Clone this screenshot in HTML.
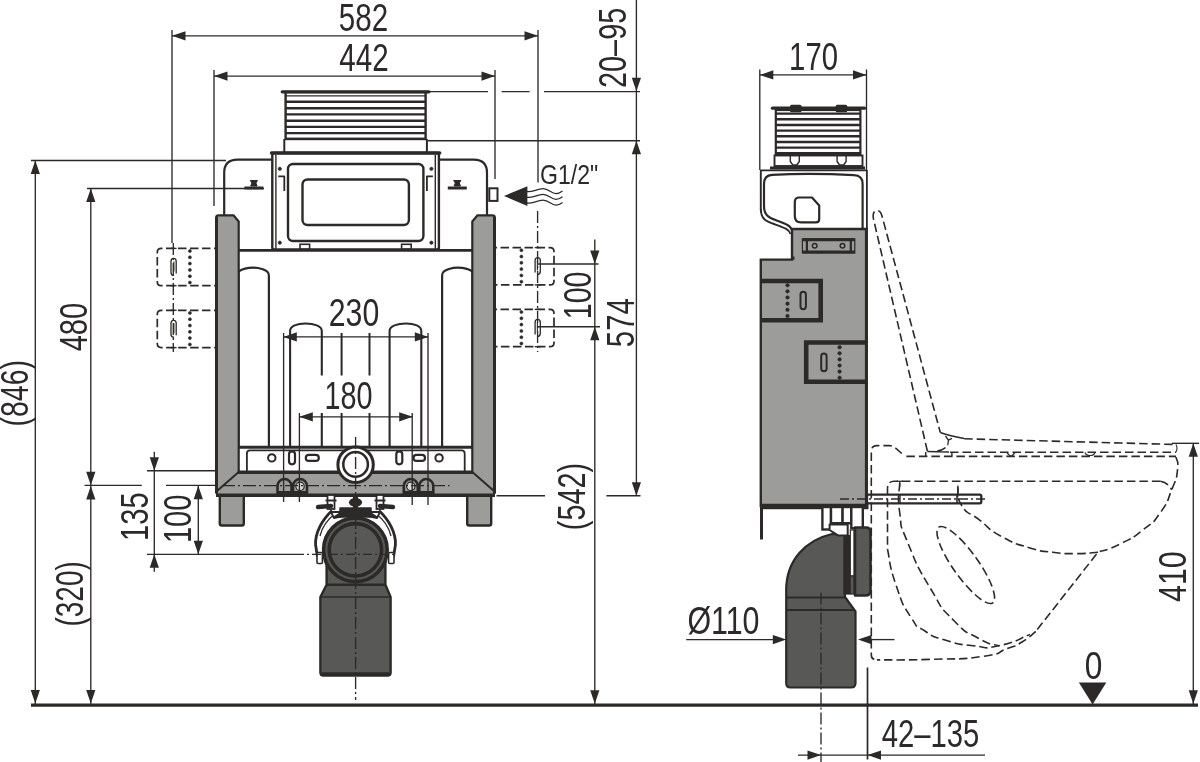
<!DOCTYPE html>
<html><head><meta charset="utf-8"><title>Dimensions</title>
<style>html,body{margin:0;padding:0;background:#fff}svg{display:block;will-change:transform}text{font-family:"Liberation Sans",sans-serif}</style>
</head><body>
<svg width="1200" height="762" viewBox="0 0 1200 762">
<rect width="1200" height="762" fill="#fff"/>
<line x1="31" y1="705.2" x2="1198" y2="705.2" stroke="#2b2a29" stroke-width="3.2" stroke-linecap="butt"/>
<rect x="285.6" y="92" width="140" height="47" rx="0" fill="#fff" stroke="#2b2a29" stroke-width="2.4"/>
<line x1="282.2" y1="91.8" x2="429" y2="91.8" stroke="#2b2a29" stroke-width="3.2" stroke-linecap="round"/>
<line x1="285" y1="95.8" x2="426" y2="95.8" stroke="#2b2a29" stroke-width="1.2" stroke-linecap="butt"/>
<line x1="285" y1="101.7" x2="426" y2="101.7" stroke="#2b2a29" stroke-width="2.4" stroke-linecap="butt"/>
<line x1="285" y1="108.2" x2="426" y2="108.2" stroke="#2b2a29" stroke-width="2.4" stroke-linecap="butt"/>
<line x1="285" y1="114.4" x2="426" y2="114.4" stroke="#2b2a29" stroke-width="2.4" stroke-linecap="butt"/>
<line x1="285" y1="120.7" x2="426" y2="120.7" stroke="#2b2a29" stroke-width="2.4" stroke-linecap="butt"/>
<line x1="285" y1="126.9" x2="426" y2="126.9" stroke="#2b2a29" stroke-width="2.4" stroke-linecap="butt"/>
<line x1="285" y1="133.1" x2="426" y2="133.1" stroke="#2b2a29" stroke-width="2.4" stroke-linecap="butt"/>
<line x1="285" y1="138.9" x2="426" y2="138.9" stroke="#2b2a29" stroke-width="2.4" stroke-linecap="butt"/>
<path d="M284.3,139 V152 M426.9,139 V152" fill="none" stroke="#2b2a29" stroke-width="2" stroke-linejoin="round" stroke-linecap="butt"/>
<path d="M224.2,216 V172.9 Q224.2,159.6 237.5,159.6 H272 M439,159.6 H473.7 Q487,159.6 487,172.9 V215" fill="none" stroke="#2b2a29" stroke-width="2.2" stroke-linejoin="round" stroke-linecap="butt"/>
<line x1="238" y1="250.4" x2="473" y2="250.4" stroke="#2b2a29" stroke-width="2.8" stroke-linecap="butt"/>
<line x1="244.4" y1="188" x2="263.4" y2="188" stroke="#2b2a29" stroke-width="3" stroke-linecap="butt"/>
<path d="M250.3,180.5 h7.2 l-1.6,2.5 l1.2,3 h-6.4 l1.2,-3 z" fill="#2b2a29" stroke="#2b2a29" stroke-width="1" stroke-linejoin="round" stroke-linecap="butt"/>
<line x1="447.8" y1="188" x2="466.8" y2="188" stroke="#2b2a29" stroke-width="3" stroke-linecap="butt"/>
<path d="M453.7,180.5 h7.2 l-1.6,2.5 l1.2,3 h-6.4 l1.2,-3 z" fill="#2b2a29" stroke="#2b2a29" stroke-width="1" stroke-linejoin="round" stroke-linecap="butt"/>
<path d="M238.5,447 V271.5 C243,268.6 248,267.7 253,267.7 C259,267.7 266,269.5 268,272.5 Q268.9,273.8 268.9,276.5 V447" fill="none" stroke="#2b2a29" stroke-width="2.2" stroke-linejoin="round" stroke-linecap="butt"/>
<path d="M472.5,447 V271.5 C468,268.6 463,267.7 458,267.7 C452,267.7 445,269.5 443,272.5 Q442.1,273.8 442.1,276.5 V447" fill="none" stroke="#2b2a29" stroke-width="2.2" stroke-linejoin="round" stroke-linecap="butt"/>
<path d="M290.1,447 V331 C290.1,326 297,323.5 305.5,323.5 C314,323.5 321.8,326 321.8,331 V447" fill="none" stroke="#2b2a29" stroke-width="2.1" stroke-linejoin="round" stroke-linecap="butt"/>
<path d="M421.3,447 V331 C421.3,326 414.4,323.5 405.9,323.5 C397.4,323.5 389.6,326 389.6,331 V447" fill="none" stroke="#2b2a29" stroke-width="2.1" stroke-linejoin="round" stroke-linecap="butt"/>
<line x1="341.6" y1="333" x2="341.6" y2="447" stroke="#2b2a29" stroke-width="2" stroke-linecap="butt"/>
<line x1="369.5" y1="333" x2="369.5" y2="447" stroke="#2b2a29" stroke-width="2" stroke-linecap="butt"/>
<rect x="272.3" y="153" width="166.6" height="96.5" rx="2" fill="#fff" stroke="#2b2a29" stroke-width="2.4"/>
<line x1="271.5" y1="153" x2="439.7" y2="153" stroke="#2b2a29" stroke-width="3.4" stroke-linecap="round"/>
<line x1="275.9" y1="155" x2="275.9" y2="249" stroke="#2b2a29" stroke-width="1.4" stroke-linecap="butt"/>
<line x1="435.3" y1="155" x2="435.3" y2="249" stroke="#2b2a29" stroke-width="1.4" stroke-linecap="butt"/>
<rect x="288" y="164" width="135.4" height="77" rx="5" fill="none" stroke="#2b2a29" stroke-width="2.4"/>
<rect x="302.5" y="179.5" width="106.4" height="45.5" rx="5" fill="none" stroke="#2b2a29" stroke-width="2.4"/>
<circle cx="279.8" cy="168.8" r="1.6" fill="#2b2a29" stroke="#2b2a29" stroke-width="0.8"/>
<circle cx="279.8" cy="242.7" r="1.6" fill="#2b2a29" stroke="#2b2a29" stroke-width="0.8"/>
<circle cx="431.4" cy="168.8" r="1.6" fill="#2b2a29" stroke="#2b2a29" stroke-width="0.8"/>
<circle cx="431.4" cy="242.7" r="1.6" fill="#2b2a29" stroke="#2b2a29" stroke-width="0.8"/>
<path d="M278.3,176.3 H284.3 V191" fill="none" stroke="#2b2a29" stroke-width="1.8" stroke-linejoin="round" stroke-linecap="butt"/>
<path d="M432.9,176.3 H426.9 V191" fill="none" stroke="#2b2a29" stroke-width="1.8" stroke-linejoin="round" stroke-linecap="butt"/>
<rect x="300" y="244.3" width="9.6" height="5" rx="0" fill="none" stroke="#2b2a29" stroke-width="1.6"/>
<rect x="401.6" y="244.3" width="9.6" height="5" rx="0" fill="none" stroke="#2b2a29" stroke-width="1.6"/>
<line x1="239" y1="447.3" x2="472.5" y2="447.3" stroke="#2b2a29" stroke-width="3" stroke-linecap="butt"/>
<path d="M246.9,472 V453.5 Q246.9,450.3 250,450.3 H461.5 Q464.7,450.3 464.7,453.5 V472" fill="none" stroke="#2b2a29" stroke-width="1.8" stroke-linejoin="round" stroke-linecap="butt"/>
<circle cx="271.8" cy="457.9" r="3.7" fill="none" stroke="#2b2a29" stroke-width="2"/>
<circle cx="439.1" cy="457.9" r="3.7" fill="none" stroke="#2b2a29" stroke-width="2"/>
<rect x="289" y="451.3" width="6" height="13" rx="3" fill="none" stroke="#2b2a29" stroke-width="2.2"/>
<rect x="396.3" y="451.3" width="6" height="13" rx="3" fill="none" stroke="#2b2a29" stroke-width="2.2"/>
<rect x="305.8" y="454.9" width="13" height="6" rx="3" fill="none" stroke="#2b2a29" stroke-width="2.2"/>
<rect x="413.5" y="454.9" width="11.5" height="6" rx="3" fill="none" stroke="#2b2a29" stroke-width="2.2"/>
<path d="M216.2,493 V217.5 Q216.2,215.3 218.7,215.3 H233.5 L238.7,221.5 V472 H240 V494 Z" fill="#9c9c9b" stroke="#2b2a29" stroke-width="2.2" stroke-linejoin="round" stroke-linecap="butt"/>
<path d="M494.8,493 V217.5 Q494.8,215.3 492.3,215.3 H477.5 L472.3,221.5 V472 H471 V494 Z" fill="#9c9c9b" stroke="#2b2a29" stroke-width="2.2" stroke-linejoin="round" stroke-linecap="butt"/>
<line x1="216.5" y1="217" x2="216.5" y2="493" stroke="#2b2a29" stroke-width="3" stroke-linecap="butt"/>
<line x1="494.5" y1="217" x2="494.5" y2="493" stroke="#2b2a29" stroke-width="3" stroke-linecap="butt"/>
<rect x="219.8" y="494" width="24" height="31.5" rx="2" fill="#9c9c9b" stroke="#2b2a29" stroke-width="2.4"/>
<rect x="467.2" y="494" width="24" height="31.5" rx="2" fill="#9c9c9b" stroke="#2b2a29" stroke-width="2.4"/>
<path d="M238.7,472 H472.3 L494,491 V495.5 H217 V491 Z" fill="#9c9c9b" stroke="#2b2a29" stroke-width="2" stroke-linejoin="round" stroke-linecap="butt"/>
<path d="M277.5,495 V486 A7,7 0 0 1 291.5,486 V495 Z" fill="#9c9c9b" stroke="#2b2a29" stroke-width="2.6" stroke-linejoin="round" stroke-linecap="butt"/>
<rect x="277.5" y="491" width="14" height="4" rx="0" fill="#2b2a29" stroke="none" stroke-width="0"/>
<path d="M293,495 V486 A7,7 0 0 1 307,486 V495 Z" fill="#9c9c9b" stroke="#2b2a29" stroke-width="2.6" stroke-linejoin="round" stroke-linecap="butt"/>
<rect x="293" y="491" width="14" height="4" rx="0" fill="#2b2a29" stroke="none" stroke-width="0"/>
<circle cx="300" cy="486.3" r="4.2" fill="#d8d8d8" stroke="#2b2a29" stroke-width="1.2"/>
<path d="M419.3,495 V486 A7,7 0 0 1 433.3,486 V495 Z" fill="#9c9c9b" stroke="#2b2a29" stroke-width="2.6" stroke-linejoin="round" stroke-linecap="butt"/>
<rect x="419.3" y="491" width="14" height="4" rx="0" fill="#2b2a29" stroke="none" stroke-width="0"/>
<path d="M403.8,495 V486 A7,7 0 0 1 417.8,486 V495 Z" fill="#9c9c9b" stroke="#2b2a29" stroke-width="2.6" stroke-linejoin="round" stroke-linecap="butt"/>
<rect x="403.8" y="491" width="14" height="4" rx="0" fill="#2b2a29" stroke="none" stroke-width="0"/>
<circle cx="410.8" cy="486.3" r="4.2" fill="#d8d8d8" stroke="#2b2a29" stroke-width="1.2"/>
<line x1="238" y1="472.2" x2="473" y2="472.2" stroke="#2b2a29" stroke-width="3.4" stroke-linecap="butt"/>
<line x1="216" y1="495.3" x2="495" y2="495.3" stroke="#2b2a29" stroke-width="3.4" stroke-linecap="butt"/>
<line x1="222" y1="485.6" x2="449.5" y2="485.6" stroke="#2b2a29" stroke-width="1.3" stroke-dasharray="13 3 2 3" stroke-linecap="butt"/>
<circle cx="355.6" cy="464.7" r="17.7" fill="#fff" stroke="#2b2a29" stroke-width="3"/>
<circle cx="355.6" cy="464.4" r="12.3" fill="#fff" stroke="#2b2a29" stroke-width="2.5"/>
<path d="M320.4,672.5 V597 L326.6,584.8 V560 H385.4 V584.8 L390.6,597 V672.5 Q390.6,675.5 387.6,675.5 H323.4 Q320.4,675.5 320.4,672.5 Z" fill="#585857" stroke="#2b2a29" stroke-width="2.4" stroke-linejoin="round" stroke-linecap="butt"/>
<line x1="322" y1="674" x2="389" y2="674" stroke="#2b2a29" stroke-width="3.6" stroke-linecap="butt"/>
<line x1="326.6" y1="584.8" x2="385.4" y2="584.8" stroke="#2b2a29" stroke-width="2.6" stroke-linecap="butt"/>
<line x1="320.5" y1="597" x2="390.5" y2="597" stroke="#2b2a29" stroke-width="1.6" stroke-linecap="butt"/>
<path d="M332.0,510.5 C322.0,520 314.8,533 315.6,545 L317.5,557" fill="none" stroke="#2b2a29" stroke-width="2.8" stroke-linejoin="round" stroke-linecap="butt"/>
<path d="M336.0,513 C328.0,519 322.0,527 320.0,536" fill="none" stroke="#2b2a29" stroke-width="1.3" stroke-linejoin="round" stroke-linecap="butt"/>
<rect x="317.0" y="552.5" width="5.4" height="11" rx="1" fill="#fff" stroke="#2b2a29" stroke-width="1.6"/>
<rect x="327.5" y="495" width="7" height="14" rx="0" fill="#fff" stroke="#2b2a29" stroke-width="1.8"/>
<line x1="318.0" y1="507" x2="331.0" y2="506" stroke="#2b2a29" stroke-width="4.4" stroke-linecap="round"/>
<line x1="325.5" y1="500.5" x2="336.5" y2="500.5" stroke="#2b2a29" stroke-width="2" stroke-linecap="butt"/>
<path d="M340.0,512 L331.0,512 L334.0,518 L343.0,516 Z" fill="#fff" stroke="#2b2a29" stroke-width="1.8" stroke-linejoin="round" stroke-linecap="butt"/>
<path d="M379.0,510.5 C389.0,520 396.2,533 395.4,545 L393.5,557" fill="none" stroke="#2b2a29" stroke-width="2.8" stroke-linejoin="round" stroke-linecap="butt"/>
<path d="M375.0,513 C383.0,519 389.0,527 391.0,536" fill="none" stroke="#2b2a29" stroke-width="1.3" stroke-linejoin="round" stroke-linecap="butt"/>
<rect x="388.6" y="552.5" width="5.4" height="11" rx="1" fill="#fff" stroke="#2b2a29" stroke-width="1.6"/>
<rect x="376.5" y="495" width="7" height="14" rx="0" fill="#fff" stroke="#2b2a29" stroke-width="1.8"/>
<line x1="393.0" y1="507" x2="380.0" y2="506" stroke="#2b2a29" stroke-width="4.4" stroke-linecap="round"/>
<line x1="385.5" y1="500.5" x2="374.5" y2="500.5" stroke="#2b2a29" stroke-width="2" stroke-linecap="butt"/>
<path d="M371.0,512 L380.0,512 L377.0,518 L368.0,516 Z" fill="#fff" stroke="#2b2a29" stroke-width="1.8" stroke-linejoin="round" stroke-linecap="butt"/>
<path d="M340,508 H371 V513 L377,517 H334 L340,513 Z" fill="#2b2a29" stroke="#2b2a29" stroke-width="1.5" stroke-linejoin="round" stroke-linecap="butt"/>
<ellipse cx="355.5" cy="502.3" rx="6.6" ry="4.4" fill="#2b2a29"/>
<line x1="355.5" y1="495" x2="355.5" y2="509" stroke="#2b2a29" stroke-width="5" stroke-linecap="butt"/>
<circle cx="355.4" cy="549.8" r="31.8" fill="#585857" stroke="#2b2a29" stroke-width="3.6"/>
<circle cx="355.4" cy="549.8" r="26.2" fill="none" stroke="#2b2a29" stroke-width="3.6"/>
<line x1="172" y1="35.8" x2="538" y2="35.8" stroke="#2b2a29" stroke-width="1.35" stroke-linecap="butt"/>
<polygon points="172.0,35.8 185.5,31.2 185.5,40.4" fill="#2b2a29"/>
<polygon points="538.0,35.8 524.5,31.2 524.5,40.4" fill="#2b2a29"/>
<line x1="172" y1="30" x2="172" y2="243" stroke="#2b2a29" stroke-width="1.35" stroke-linecap="butt"/>
<line x1="173.3" y1="243" x2="173.3" y2="352" stroke="#2b2a29" stroke-width="1.35" stroke-dasharray="12 3 2 3" stroke-linecap="butt"/>
<line x1="538" y1="30" x2="538" y2="182.5" stroke="#2b2a29" stroke-width="1.35" stroke-linecap="butt"/>
<line x1="537.6" y1="211" x2="537.6" y2="352" stroke="#2b2a29" stroke-width="1.35" stroke-dasharray="12 3 2 3" stroke-linecap="butt"/>
<text transform="translate(338.82,31.0) scale(0.7790,1)" font-size="38" fill="#2b2a29">582</text>
<line x1="214" y1="76.1" x2="495" y2="76.1" stroke="#2b2a29" stroke-width="1.35" stroke-linecap="butt"/>
<polygon points="214.0,76.1 227.5,71.5 227.5,80.7" fill="#2b2a29"/>
<polygon points="495.0,76.1 481.5,71.5 481.5,80.7" fill="#2b2a29"/>
<line x1="214" y1="70" x2="214" y2="206" stroke="#2b2a29" stroke-width="1.35" stroke-linecap="butt"/>
<line x1="495" y1="70" x2="495" y2="179" stroke="#2b2a29" stroke-width="1.35" stroke-linecap="butt"/>
<text transform="translate(339.33,71.3) scale(0.7787,1)" font-size="38" fill="#2b2a29">442</text>
<line x1="428" y1="91.6" x2="640" y2="91.6" stroke="#2b2a29" stroke-width="1.35" stroke-dasharray="60 13.6 28 14.4 200" stroke-linecap="butt"/>
<line x1="428" y1="140.7" x2="640" y2="140.7" stroke="#2b2a29" stroke-width="1.35" stroke-linecap="butt"/>
<line x1="636.4" y1="0" x2="636.4" y2="495.5" stroke="#2b2a29" stroke-width="1.35" stroke-linecap="butt"/>
<polygon points="636.4,91.3 631.8,77.8 641.0,77.8" fill="#2b2a29"/>
<polygon points="636.4,140.8 631.8,154.3 641.0,154.3" fill="#2b2a29"/>
<polygon points="636.4,495.7 631.8,482.2 641.0,482.2" fill="#2b2a29"/>
<text transform="translate(626,88.04) rotate(-90) scale(0.7601,1)" font-size="38" fill="#2b2a29">20–95</text>
<text transform="translate(634.4,347.17) rotate(-90) scale(0.7714,1)" font-size="38" fill="#2b2a29">574</text>
<line x1="31" y1="160.5" x2="226" y2="160.5" stroke="#2b2a29" stroke-width="1.35" stroke-linecap="butt"/>
<line x1="35.3" y1="161" x2="35.3" y2="704" stroke="#2b2a29" stroke-width="1.35" stroke-linecap="butt"/>
<polygon points="35.3,160.5 30.7,174.0 39.9,174.0" fill="#2b2a29"/>
<polygon points="35.3,703.5 30.7,690.0 39.9,690.0" fill="#2b2a29"/>
<text transform="translate(27.9,426.48) rotate(-90) scale(0.7502,1)" font-size="38" fill="#2b2a29">(846)</text>
<line x1="87" y1="188.5" x2="264" y2="188.5" stroke="#2b2a29" stroke-width="1.35" stroke-linecap="butt"/>
<line x1="90.8" y1="189" x2="90.8" y2="704" stroke="#2b2a29" stroke-width="1.35" stroke-linecap="butt"/>
<polygon points="90.8,188.5 86.2,202.0 95.4,202.0" fill="#2b2a29"/>
<polygon points="90.8,485.2 86.2,471.7 95.4,471.7" fill="#2b2a29"/>
<polygon points="90.8,486.0 86.2,499.5 95.4,499.5" fill="#2b2a29"/>
<polygon points="90.8,703.5 86.2,690.0 95.4,690.0" fill="#2b2a29"/>
<line x1="84.5" y1="485.4" x2="141.8" y2="485.4" stroke="#2b2a29" stroke-width="1.35" stroke-linecap="butt"/>
<line x1="166" y1="485.4" x2="217" y2="485.4" stroke="#2b2a29" stroke-width="1.35" stroke-linecap="butt"/>
<text transform="translate(86.8,351.36) rotate(-90) scale(0.7678,1)" font-size="38" fill="#2b2a29">480</text>
<text transform="translate(83.0,626.55) rotate(-90) scale(0.7371,1)" font-size="38" fill="#2b2a29">(320)</text>
<line x1="154.3" y1="451.7" x2="154.3" y2="571.7" stroke="#2b2a29" stroke-width="1.35" stroke-linecap="butt"/>
<polygon points="154.3,470.7 149.7,457.2 158.9,457.2" fill="#2b2a29"/>
<polygon points="154.3,554.3 149.7,567.8 158.9,567.8" fill="#2b2a29"/>
<line x1="147" y1="470.7" x2="218" y2="470.7" stroke="#2b2a29" stroke-width="1.35" stroke-linecap="butt"/>
<line x1="147" y1="554.3" x2="295" y2="554.3" stroke="#2b2a29" stroke-width="1.35" stroke-linecap="butt"/>
<line x1="295" y1="554.3" x2="397" y2="554.3" stroke="#2b2a29" stroke-width="1.35" stroke-dasharray="9 3 2 3" stroke-linecap="butt"/>
<text transform="translate(147.5,540.98) rotate(-90) scale(0.7662,1)" font-size="38" fill="#2b2a29">135</text>
<line x1="198.3" y1="486" x2="198.3" y2="554" stroke="#2b2a29" stroke-width="1.35" stroke-linecap="butt"/>
<polygon points="198.3,485.7 193.7,499.2 202.9,499.2" fill="#2b2a29"/>
<polygon points="198.3,554.3 193.7,540.8 202.9,540.8" fill="#2b2a29"/>
<text transform="translate(191.1,543.08) rotate(-90) scale(0.7649,1)" font-size="38" fill="#2b2a29">100</text>
<rect x="323" y="295.5" width="58.8" height="36.8" rx="0" fill="#fff" stroke="none" stroke-width="0"/>
<rect x="319.5" y="375.5" width="61.5" height="37.5" rx="0" fill="#fff" stroke="none" stroke-width="0"/>
<line x1="283.3" y1="336.9" x2="428.3" y2="336.9" stroke="#2b2a29" stroke-width="1.35" stroke-linecap="butt"/>
<polygon points="283.3,336.9 296.8,332.3 296.8,341.5" fill="#2b2a29"/>
<polygon points="428.3,336.9 414.8,332.3 414.8,341.5" fill="#2b2a29"/>
<line x1="299.3" y1="416.8" x2="412.7" y2="416.8" stroke="#2b2a29" stroke-width="1.35" stroke-linecap="butt"/>
<polygon points="299.3,416.8 312.8,412.2 312.8,421.4" fill="#2b2a29"/>
<polygon points="412.7,416.8 399.2,412.2 399.2,421.4" fill="#2b2a29"/>
<line x1="283.6" y1="333" x2="283.6" y2="502" stroke="#2b2a29" stroke-width="1.35" stroke-linecap="butt"/>
<line x1="428" y1="333" x2="428" y2="505" stroke="#2b2a29" stroke-width="1.35" stroke-linecap="butt"/>
<line x1="299.4" y1="413" x2="299.4" y2="502" stroke="#2b2a29" stroke-width="1.35" stroke-linecap="butt"/>
<line x1="412.2" y1="413" x2="412.2" y2="505" stroke="#2b2a29" stroke-width="1.35" stroke-linecap="butt"/>
<text transform="translate(328.79,326.0) scale(0.7961,1)" font-size="38" fill="#2b2a29">230</text>
<text transform="translate(324.44,408.8) scale(0.7565,1)" font-size="38" fill="#2b2a29">180</text>
<line x1="355.6" y1="437" x2="355.6" y2="700" stroke="#2b2a29" stroke-width="1.35" stroke-dasharray="12 3 2 3" stroke-linecap="butt"/>
<path d="M215.5,248.4 H161.3 Q157.3,248.4 157.3,252.4 V281.7 Q157.3,285.7 161.3,285.7 H215.5" fill="none" stroke="#2b2a29" stroke-width="1.7" stroke-dasharray="8.5 3.5" stroke-dashoffset="7" stroke-linejoin="round" stroke-linecap="butt"/>
<circle cx="189.9" cy="251.0" r="1.5" fill="#2b2a29" stroke="#2b2a29" stroke-width="0.6"/>
<circle cx="189.9" cy="257.3" r="1.5" fill="#2b2a29" stroke="#2b2a29" stroke-width="0.6"/>
<circle cx="189.9" cy="263.6" r="1.5" fill="#2b2a29" stroke="#2b2a29" stroke-width="0.6"/>
<circle cx="189.9" cy="269.9" r="1.5" fill="#2b2a29" stroke="#2b2a29" stroke-width="0.6"/>
<circle cx="189.9" cy="276.2" r="1.5" fill="#2b2a29" stroke="#2b2a29" stroke-width="0.6"/>
<circle cx="189.9" cy="282.5" r="1.5" fill="#2b2a29" stroke="#2b2a29" stroke-width="0.6"/>
<path d="M176.20000000000002,273.4 V261.4 Q176.20000000000002,258.4 173.60000000000002,258.4 Q171.00000000000003,258.4 171.00000000000003,261.4 V272.4 Q171.00000000000003,275.4 174.10000000000002,275.4" fill="none" stroke="#2b2a29" stroke-width="1.3" stroke-linejoin="round" stroke-linecap="butt"/>
<line x1="173.90000000000003" y1="261.4" x2="173.90000000000003" y2="271.4" stroke="#2b2a29" stroke-width="1.1" stroke-linecap="butt"/>
<line x1="170.60000000000002" y1="248.4" x2="176.60000000000002" y2="248.4" stroke="#2b2a29" stroke-width="1.3" stroke-linecap="butt"/>
<line x1="170.60000000000002" y1="285.7" x2="176.60000000000002" y2="285.7" stroke="#2b2a29" stroke-width="1.3" stroke-linecap="butt"/>
<path d="M215.5,310.3 H161.3 Q157.3,310.3 157.3,314.3 V343.6 Q157.3,347.6 161.3,347.6 H215.5" fill="none" stroke="#2b2a29" stroke-width="1.7" stroke-dasharray="8.5 3.5" stroke-dashoffset="7" stroke-linejoin="round" stroke-linecap="butt"/>
<circle cx="189.9" cy="312.90000000000003" r="1.5" fill="#2b2a29" stroke="#2b2a29" stroke-width="0.6"/>
<circle cx="189.9" cy="319.20000000000005" r="1.5" fill="#2b2a29" stroke="#2b2a29" stroke-width="0.6"/>
<circle cx="189.9" cy="325.50000000000006" r="1.5" fill="#2b2a29" stroke="#2b2a29" stroke-width="0.6"/>
<circle cx="189.9" cy="331.8" r="1.5" fill="#2b2a29" stroke="#2b2a29" stroke-width="0.6"/>
<circle cx="189.9" cy="338.1" r="1.5" fill="#2b2a29" stroke="#2b2a29" stroke-width="0.6"/>
<circle cx="189.9" cy="344.40000000000003" r="1.5" fill="#2b2a29" stroke="#2b2a29" stroke-width="0.6"/>
<path d="M176.20000000000002,335.3 V323.3 Q176.20000000000002,320.3 173.60000000000002,320.3 Q171.00000000000003,320.3 171.00000000000003,323.3 V334.3 Q171.00000000000003,337.3 174.10000000000002,337.3" fill="none" stroke="#2b2a29" stroke-width="1.3" stroke-linejoin="round" stroke-linecap="butt"/>
<line x1="173.90000000000003" y1="323.3" x2="173.90000000000003" y2="333.3" stroke="#2b2a29" stroke-width="1.1" stroke-linecap="butt"/>
<line x1="170.60000000000002" y1="310.3" x2="176.60000000000002" y2="310.3" stroke="#2b2a29" stroke-width="1.3" stroke-linecap="butt"/>
<line x1="170.60000000000002" y1="347.6" x2="176.60000000000002" y2="347.6" stroke="#2b2a29" stroke-width="1.3" stroke-linecap="butt"/>
<path d="M495.5,247.6 H550 Q554,247.6 554,251.6 V280.9 Q554,284.9 550,284.9 H495.5" fill="none" stroke="#2b2a29" stroke-width="1.7" stroke-dasharray="8.5 3.5" stroke-dashoffset="7" stroke-linejoin="round" stroke-linecap="butt"/>
<circle cx="521.4" cy="250.2" r="1.5" fill="#2b2a29" stroke="#2b2a29" stroke-width="0.6"/>
<circle cx="521.4" cy="256.5" r="1.5" fill="#2b2a29" stroke="#2b2a29" stroke-width="0.6"/>
<circle cx="521.4" cy="262.8" r="1.5" fill="#2b2a29" stroke="#2b2a29" stroke-width="0.6"/>
<circle cx="521.4" cy="269.09999999999997" r="1.5" fill="#2b2a29" stroke="#2b2a29" stroke-width="0.6"/>
<circle cx="521.4" cy="275.4" r="1.5" fill="#2b2a29" stroke="#2b2a29" stroke-width="0.6"/>
<circle cx="521.4" cy="281.7" r="1.5" fill="#2b2a29" stroke="#2b2a29" stroke-width="0.6"/>
<path d="M535.1,272.6 V260.6 Q535.1,257.6 537.7,257.6 Q540.3000000000001,257.6 540.3000000000001,260.6 V271.6 Q540.3000000000001,274.6 537.2,274.6" fill="none" stroke="#2b2a29" stroke-width="1.3" stroke-linejoin="round" stroke-linecap="butt"/>
<line x1="537.4000000000001" y1="260.6" x2="537.4000000000001" y2="270.6" stroke="#2b2a29" stroke-width="1.1" stroke-linecap="butt"/>
<line x1="534.7" y1="247.6" x2="540.7" y2="247.6" stroke="#2b2a29" stroke-width="1.3" stroke-linecap="butt"/>
<line x1="534.7" y1="284.9" x2="540.7" y2="284.9" stroke="#2b2a29" stroke-width="1.3" stroke-linecap="butt"/>
<path d="M495.5,309.4 H550 Q554,309.4 554,313.4 V342.7 Q554,346.7 550,346.7 H495.5" fill="none" stroke="#2b2a29" stroke-width="1.7" stroke-dasharray="8.5 3.5" stroke-dashoffset="7" stroke-linejoin="round" stroke-linecap="butt"/>
<circle cx="521.4" cy="312.0" r="1.5" fill="#2b2a29" stroke="#2b2a29" stroke-width="0.6"/>
<circle cx="521.4" cy="318.3" r="1.5" fill="#2b2a29" stroke="#2b2a29" stroke-width="0.6"/>
<circle cx="521.4" cy="324.6" r="1.5" fill="#2b2a29" stroke="#2b2a29" stroke-width="0.6"/>
<circle cx="521.4" cy="330.9" r="1.5" fill="#2b2a29" stroke="#2b2a29" stroke-width="0.6"/>
<circle cx="521.4" cy="337.2" r="1.5" fill="#2b2a29" stroke="#2b2a29" stroke-width="0.6"/>
<circle cx="521.4" cy="343.5" r="1.5" fill="#2b2a29" stroke="#2b2a29" stroke-width="0.6"/>
<path d="M535.1,334.4 V322.4 Q535.1,319.4 537.7,319.4 Q540.3000000000001,319.4 540.3000000000001,322.4 V333.4 Q540.3000000000001,336.4 537.2,336.4" fill="none" stroke="#2b2a29" stroke-width="1.3" stroke-linejoin="round" stroke-linecap="butt"/>
<line x1="537.4000000000001" y1="322.4" x2="537.4000000000001" y2="332.4" stroke="#2b2a29" stroke-width="1.1" stroke-linecap="butt"/>
<line x1="534.7" y1="309.4" x2="540.7" y2="309.4" stroke="#2b2a29" stroke-width="1.3" stroke-linecap="butt"/>
<line x1="534.7" y1="346.7" x2="540.7" y2="346.7" stroke="#2b2a29" stroke-width="1.3" stroke-linecap="butt"/>
<line x1="538" y1="264" x2="598.5" y2="264" stroke="#2b2a29" stroke-width="1.35" stroke-linecap="butt"/>
<line x1="538" y1="326.7" x2="600" y2="326.7" stroke="#2b2a29" stroke-width="1.35" stroke-linecap="butt"/>
<line x1="594.8" y1="239.5" x2="594.8" y2="704" stroke="#2b2a29" stroke-width="1.35" stroke-linecap="butt"/>
<polygon points="594.8,264.0 590.2,250.5 599.4,250.5" fill="#2b2a29"/>
<polygon points="594.8,326.7 590.2,340.2 599.4,340.2" fill="#2b2a29"/>
<polygon points="594.8,703.8 590.2,690.3 599.4,690.3" fill="#2b2a29"/>
<text transform="translate(590.6,319.14) rotate(-90) scale(0.7514,1)" font-size="38" fill="#2b2a29">100</text>
<line x1="496.5" y1="495.7" x2="545" y2="495.7" stroke="#2b2a29" stroke-width="1.35" stroke-linecap="butt"/>
<line x1="606.4" y1="495.7" x2="640.5" y2="495.7" stroke="#2b2a29" stroke-width="1.35" stroke-linecap="butt"/>
<text transform="translate(584.6,530.20) rotate(-90) scale(0.7585,1)" font-size="38" fill="#2b2a29">(542)</text>
<rect x="489.3" y="188.3" width="8.2" height="12.6" rx="0" fill="#fff" stroke="#2b2a29" stroke-width="2"/>
<polygon points="504,196 527.4,186.3 527.4,206.1" fill="#2b2a29"/>
<path d="M527,191.5 C532,192.7 537,188.6 543,188.6 C549,188.6 551,193.6 556,193.6 C558.5,193.6 560.5,192.39999999999998 562.5,190.89999999999998" fill="none" stroke="#2b2a29" stroke-width="1.3" stroke-linejoin="round" stroke-linecap="butt"/>
<path d="M527,197.3 C532,198.5 537,194.4 543,194.4 C549,194.4 551,199.4 556,199.4 C558.5,199.4 560.5,198.2 562.5,196.7" fill="none" stroke="#2b2a29" stroke-width="1.3" stroke-linejoin="round" stroke-linecap="butt"/>
<path d="M527,203.0 C532,204.2 537,200.1 543,200.1 C549,200.1 551,205.1 556,205.1 C558.5,205.1 560.5,203.89999999999998 562.5,202.39999999999998" fill="none" stroke="#2b2a29" stroke-width="1.3" stroke-linejoin="round" stroke-linecap="butt"/>
<text transform="translate(540.05,183.8) scale(0.8488,1)" font-size="27.2" fill="#2b2a29">G1/2"</text>
<line x1="759.8" y1="69.5" x2="759.8" y2="170" stroke="#2b2a29" stroke-width="1.35" stroke-linecap="butt"/>
<line x1="866.5" y1="69.5" x2="866.5" y2="170" stroke="#2b2a29" stroke-width="1.35" stroke-linecap="butt"/>
<line x1="759.8" y1="74.9" x2="866.5" y2="74.9" stroke="#2b2a29" stroke-width="1.35" stroke-linecap="butt"/>
<polygon points="759.8,74.9 773.3,70.3 773.3,79.5" fill="#2b2a29"/>
<polygon points="866.5,74.9 853.0,70.3 853.0,79.5" fill="#2b2a29"/>
<text transform="translate(789.11,69.8) scale(0.7700,1)" font-size="38" fill="#2b2a29">170</text>
<rect x="775.8" y="110" width="84.6" height="45" rx="0" fill="#fff" stroke="#2b2a29" stroke-width="2.2"/>
<line x1="776" y1="113.6" x2="860" y2="113.6" stroke="#2b2a29" stroke-width="2.4" stroke-linecap="butt"/>
<line x1="776" y1="119.27" x2="860" y2="119.27" stroke="#2b2a29" stroke-width="2.4" stroke-linecap="butt"/>
<line x1="776" y1="124.94" x2="860" y2="124.94" stroke="#2b2a29" stroke-width="2.4" stroke-linecap="butt"/>
<line x1="776" y1="130.60999999999999" x2="860" y2="130.60999999999999" stroke="#2b2a29" stroke-width="2.4" stroke-linecap="butt"/>
<line x1="776" y1="136.28" x2="860" y2="136.28" stroke="#2b2a29" stroke-width="2.4" stroke-linecap="butt"/>
<line x1="776" y1="141.95" x2="860" y2="141.95" stroke="#2b2a29" stroke-width="2.4" stroke-linecap="butt"/>
<line x1="776" y1="147.62" x2="860" y2="147.62" stroke="#2b2a29" stroke-width="2.4" stroke-linecap="butt"/>
<line x1="776" y1="153.29" x2="860" y2="153.29" stroke="#2b2a29" stroke-width="2.4" stroke-linecap="butt"/>
<line x1="772.4" y1="108.2" x2="864.5" y2="108.2" stroke="#2b2a29" stroke-width="3.2" stroke-linecap="round"/>
<rect x="790" y="104.8" width="11.5" height="7.5" rx="1.5" fill="#2b2a29" stroke="none" stroke-width="0"/>
<rect x="835.7" y="104.8" width="11.5" height="7.5" rx="1.5" fill="#2b2a29" stroke="none" stroke-width="0"/>
<rect x="774.5" y="155.5" width="88" height="10.5" rx="0" fill="#fff" stroke="#2b2a29" stroke-width="1.9"/>
<path d="M790.3,156 V161.5 L792.8,165 H796.8 L799.3,161.5 V156" fill="none" stroke="#2b2a29" stroke-width="1.4" stroke-linejoin="round" stroke-linecap="butt"/>
<path d="M837.1,156 V161.5 L839.6,165 H843.6 L846.1,161.5 V156" fill="none" stroke="#2b2a29" stroke-width="1.4" stroke-linejoin="round" stroke-linecap="butt"/>
<line x1="770" y1="168" x2="865" y2="168" stroke="#2b2a29" stroke-width="3" stroke-linecap="butt"/>
<path d="M760.8,210 V170.4 H866.9" fill="none" stroke="#2b2a29" stroke-width="1.9" stroke-linejoin="round" stroke-linecap="butt"/>
<line x1="866.9" y1="170" x2="866.9" y2="230" stroke="#2b2a29" stroke-width="1.8" stroke-linecap="butt"/>
<path d="M862.6,229 V184 Q862.6,175.5 854,175.2 Q812,172.8 772,174.8 Q764,175.2 764,184 V206 C764,215 768.5,217.5 775.5,220 C785.5,223.5 791.5,225.5 792.5,232" fill="none" stroke="#2b2a29" stroke-width="2.2" stroke-linejoin="round" stroke-linecap="butt"/>
<path d="M760.8,209 C760.8,219 766,221.5 774,224 C784,227.5 789,229 790.5,234" fill="none" stroke="#2b2a29" stroke-width="1.9" stroke-linejoin="round" stroke-linecap="butt"/>
<path d="M799.3,197.5 H812 L819.2,205.5 V219 Q819.2,222.4 816,222.4 H801 Q794.8,222.4 794.8,216 V202 Q794.8,197.5 799.3,197.5 Z" fill="none" stroke="#2b2a29" stroke-width="2.2" stroke-linejoin="round" stroke-linecap="butt"/>
<path d="M792,229 H866.5 V506 H760.8 V259.6 H792 Z" fill="#9c9c9b" stroke="#2b2a29" stroke-width="2.4" stroke-linejoin="miter" stroke-linecap="butt"/>
<rect x="791" y="256.5" width="3.5" height="3.2" rx="0" fill="#2b2a29" stroke="none" stroke-width="0"/>
<line x1="760" y1="506.5" x2="868.5" y2="506.5" stroke="#2b2a29" stroke-width="5.5" stroke-linecap="butt"/>
<line x1="866.4" y1="228" x2="866.4" y2="507" stroke="#2b2a29" stroke-width="3" stroke-linecap="butt"/>
<line x1="761.5" y1="504" x2="761.5" y2="539.5" stroke="#2b2a29" stroke-width="3" stroke-linecap="butt"/>
<rect x="802.4" y="238.8" width="52.4" height="14.1" rx="0" fill="#9c9c9b" stroke="#2b2a29" stroke-width="1.2"/>
<line x1="802.4" y1="239.8" x2="854.8" y2="239.8" stroke="#2b2a29" stroke-width="3" stroke-linecap="butt"/>
<line x1="802.4" y1="251.9" x2="854.8" y2="251.9" stroke="#2b2a29" stroke-width="3" stroke-linecap="butt"/>
<line x1="806.9" y1="239" x2="806.9" y2="252.5" stroke="#2b2a29" stroke-width="2.2" stroke-linecap="butt"/>
<line x1="850.8" y1="239" x2="850.8" y2="252.5" stroke="#2b2a29" stroke-width="2.2" stroke-linecap="butt"/>
<circle cx="814.7" cy="245.8" r="2.3" fill="none" stroke="#2b2a29" stroke-width="1.5"/>
<circle cx="842.5" cy="245.8" r="2.3" fill="none" stroke="#2b2a29" stroke-width="1.5"/>
<path d="M761,281 H820.7 V320.2 H761" fill="none" stroke="#2b2a29" stroke-width="4.6" stroke-linejoin="miter" stroke-linecap="butt"/>
<circle cx="787.5" cy="285.2" r="1.8" fill="#2b2a29" stroke="#2b2a29" stroke-width="0.5"/>
<circle cx="787.5" cy="291.34999999999997" r="1.8" fill="#2b2a29" stroke="#2b2a29" stroke-width="0.5"/>
<circle cx="787.5" cy="297.5" r="1.8" fill="#2b2a29" stroke="#2b2a29" stroke-width="0.5"/>
<circle cx="787.5" cy="303.65" r="1.8" fill="#2b2a29" stroke="#2b2a29" stroke-width="0.5"/>
<circle cx="787.5" cy="309.8" r="1.8" fill="#2b2a29" stroke="#2b2a29" stroke-width="0.5"/>
<circle cx="787.5" cy="315.95" r="1.8" fill="#2b2a29" stroke="#2b2a29" stroke-width="0.5"/>
<rect x="800.5" y="291.8" width="5.4" height="17.4" rx="2.7" fill="none" stroke="#2b2a29" stroke-width="2"/>
<path d="M866,342.5 H806.2 V381.7 H866" fill="none" stroke="#2b2a29" stroke-width="4.6" stroke-linejoin="miter" stroke-linecap="butt"/>
<circle cx="839.6" cy="347.2" r="1.8" fill="#2b2a29" stroke="#2b2a29" stroke-width="0.5"/>
<circle cx="839.6" cy="353.3" r="1.8" fill="#2b2a29" stroke="#2b2a29" stroke-width="0.5"/>
<circle cx="839.6" cy="359.4" r="1.8" fill="#2b2a29" stroke="#2b2a29" stroke-width="0.5"/>
<circle cx="839.6" cy="365.5" r="1.8" fill="#2b2a29" stroke="#2b2a29" stroke-width="0.5"/>
<circle cx="839.6" cy="371.59999999999997" r="1.8" fill="#2b2a29" stroke="#2b2a29" stroke-width="0.5"/>
<circle cx="839.6" cy="377.7" r="1.8" fill="#2b2a29" stroke="#2b2a29" stroke-width="0.5"/>
<rect x="821.2" y="353.5" width="5.4" height="17.7" rx="2.7" fill="none" stroke="#2b2a29" stroke-width="2"/>
<rect x="867" y="494.7" width="114.3" height="8.6" rx="1.5" fill="#fff" stroke="#2b2a29" stroke-width="2.3"/>
<line x1="900" y1="494.6" x2="900" y2="503.2" stroke="#2b2a29" stroke-width="1.4" stroke-linecap="butt"/>
<line x1="957" y1="494.6" x2="957" y2="503.2" stroke="#2b2a29" stroke-width="1.6" stroke-linecap="butt"/>
<line x1="840" y1="499" x2="985" y2="499" stroke="#2b2a29" stroke-width="1.4" stroke-dasharray="9 3 2 3" stroke-linecap="butt"/>
<rect x="822.4" y="507" width="8.600000000000023" height="22.5" rx="0" fill="#fff" stroke="#2b2a29" stroke-width="2.4"/>
<rect x="831" y="507" width="11.600000000000023" height="16.200000000000045" rx="0" fill="#fff" stroke="#2b2a29" stroke-width="2.4"/>
<rect x="842.6" y="507" width="8.699999999999932" height="16.200000000000045" rx="0" fill="#fff" stroke="#2b2a29" stroke-width="2.4"/>
<rect x="851.3" y="507" width="11.5" height="21.200000000000045" rx="0" fill="#fff" stroke="#2b2a29" stroke-width="2.4"/>
<path d="M832,534 C806,540 786.2,560 786.2,590 V683 Q786.2,687.5 790.5,687.5 H851 Q855.5,687.5 855.5,683 V611.5 L845,597 V535 Z" fill="#585857" stroke="#2b2a29" stroke-width="2.2" stroke-linejoin="round" stroke-linecap="butt"/>
<line x1="786.5" y1="597.5" x2="845" y2="597.5" stroke="#2b2a29" stroke-width="2" stroke-linecap="butt"/>
<line x1="786.5" y1="610" x2="855" y2="610" stroke="#2b2a29" stroke-width="2" stroke-linecap="butt"/>
<rect x="843.3" y="535" width="6.7" height="59.6" rx="0" fill="#2b2a29" stroke="none" stroke-width="0"/>
<rect x="850.3" y="530" width="3.8" height="46" rx="0" fill="#fff" stroke="#2b2a29" stroke-width="1.2"/>
<rect x="850.3" y="576" width="3.8" height="18" rx="0" fill="#585857" stroke="#2b2a29" stroke-width="1.2"/>
<path d="M855,527.5 H866 Q870.5,527.5 870.5,532 V590.5 Q870.5,595.5 865.5,595.5 H855 Z" fill="#585857" stroke="#2b2a29" stroke-width="2.6" stroke-linejoin="round" stroke-linecap="butt"/>
<path d="M829.6,524.6 H847.7 V535.4 H838 L829.6,530 Z" fill="#fff" stroke="#2b2a29" stroke-width="2" stroke-linejoin="round" stroke-linecap="butt"/>
<line x1="821" y1="592.6" x2="821" y2="762" stroke="#2b2a29" stroke-width="1.35" stroke-dasharray="12 3 2 3" stroke-linecap="butt"/>
<line x1="867.5" y1="667.5" x2="867.5" y2="759.5" stroke="#2b2a29" stroke-width="1.7" stroke-linecap="butt"/>
<text transform="translate(687.46,634.1) scale(0.7992,1)" font-size="38" fill="#2b2a29">Ø110</text>
<line x1="686.2" y1="639.6" x2="773" y2="639.6" stroke="#2b2a29" stroke-width="1.35" stroke-linecap="butt"/>
<polygon points="786.3,639.6 772.8,635.0 772.8,644.2" fill="#2b2a29"/>
<line x1="870" y1="639.6" x2="894.5" y2="639.6" stroke="#2b2a29" stroke-width="1.35" stroke-linecap="butt"/>
<polygon points="858.0,639.6 871.5,635.0 871.5,644.2" fill="#2b2a29"/>
<text transform="translate(881.74,746.6) scale(0.7696,1)" font-size="38" fill="#2b2a29">42–135</text>
<line x1="798" y1="755.1" x2="985" y2="755.1" stroke="#2b2a29" stroke-width="1.35" stroke-linecap="butt"/>
<polygon points="821.0,755.1 807.5,750.5 807.5,759.7" fill="#2b2a29"/>
<polygon points="867.5,755.1 881.0,750.5 881.0,759.7" fill="#2b2a29"/>
<line x1="1172" y1="443.3" x2="1199" y2="443.3" stroke="#2b2a29" stroke-width="1.35" stroke-linecap="butt"/>
<line x1="1193.3" y1="444" x2="1193.3" y2="704" stroke="#2b2a29" stroke-width="1.35" stroke-linecap="butt"/>
<polygon points="1193.3,443.3 1188.7,456.8 1197.9,456.8" fill="#2b2a29"/>
<polygon points="1193.3,703.8 1188.7,690.3 1197.9,690.3" fill="#2b2a29"/>
<text transform="translate(1185.5,601.88) rotate(-90) scale(0.7972,1)" font-size="38" fill="#2b2a29">410</text>
<text transform="translate(1084.84,679.1) scale(0.8322,1)" font-size="38" fill="#2b2a29">0</text>
<polygon points="1078.9,682.5 1106.3,682.5 1092.6,704.5" fill="#2b2a29"/>
<path d="M927.4,451.2 L873.5,219 Q872,211.5 876.5,210.5 Q880.5,210 882,216 L940.3,432.5" fill="none" stroke="#2b2a29" stroke-width="1.6" stroke-dasharray="8.5 4" stroke-linejoin="round" stroke-linecap="butt"/>
<path d="M940.3,432.5 Q948,435.5 964.2,438.6" fill="none" stroke="#2b2a29" stroke-width="1.5" stroke-linejoin="round" stroke-linecap="butt"/>
<path d="M945.5,436 L948.4,440.1 L951.9,438.3 M948.4,440.1 L947.8,445.3" fill="none" stroke="#2b2a29" stroke-width="1.3" stroke-linejoin="round" stroke-linecap="butt"/>
<path d="M927.4,451.4 L949,451.9 M937.3,451 Q942,450.5 945.5,447.7" fill="none" stroke="#2b2a29" stroke-width="1.5" stroke-linejoin="round" stroke-linecap="butt"/>
<path d="M925.7,452 V456.4 M951.9,452 V456.4" fill="none" stroke="#2b2a29" stroke-width="1.4" stroke-linejoin="round" stroke-linecap="butt"/>
<path d="M964.2,438.8 L1176,444.5" fill="none" stroke="#2b2a29" stroke-width="1.6" stroke-dasharray="8.5 4" stroke-linejoin="round" stroke-linecap="butt"/>
<path d="M950,452.3 H1176" fill="none" stroke="#2b2a29" stroke-width="1.6" stroke-dasharray="8.5 4" stroke-linejoin="round" stroke-linecap="butt"/>
<path d="M1176,444.5 Q1178,448 1176,452" fill="none" stroke="#2b2a29" stroke-width="1.1" stroke-linejoin="round" stroke-linecap="butt"/>
<path d="M1007,452.5 q2,3.5 5,3.5 M1012,456 l3,-3.5 M1085,452.5 q1,3 5,3 q4,0 5,-3" fill="none" stroke="#2b2a29" stroke-width="1.2" stroke-linejoin="round" stroke-linecap="butt"/>
<path d="M906.4,456.4 H1176" fill="none" stroke="#2b2a29" stroke-width="1.6" stroke-dasharray="8.5 4" stroke-linejoin="round" stroke-linecap="butt"/>
<path d="M901.8,453.5 L895.9,448.3 Q892,445.6 889.5,445.6 H877 Q871.3,445.6 871.3,451.5 V655 Q871.3,659.9 877,659.9" fill="none" stroke="#2b2a29" stroke-width="1.6" stroke-dasharray="8.5 4" stroke-linejoin="round" stroke-linecap="butt"/>
<path d="M1176.0,457.0 C1176.5,461.3 1178.9,459.1 1177.5,470.0 C1176.1,480.9 1177.4,475.6 1171.7,489.8 C1166.0,504.0 1169.8,499.3 1160.4,512.5 C1151.0,525.7 1156.6,519.1 1143.4,529.5 C1130.2,539.9 1135.8,536.1 1120.7,543.7 C1105.6,551.3 1105.6,549.4 1098.0,552.2 L1035.7,631.5" fill="none" stroke="#2b2a29" stroke-width="1.6" stroke-dasharray="8.5 4" stroke-linejoin="round" stroke-linecap="butt"/>
<path d="M1035.7,631.5 C1031.1,635.0 1031.4,636.3 1022.0,642.0 C1012.6,647.7 1020.8,643.7 1007.4,648.5 C994.0,653.3 1007.3,652.9 981.8,656.5 C956.3,660.1 965.7,658.2 930.8,659.3 C895.9,660.4 894.9,659.7 877.0,659.9" fill="none" stroke="#2b2a29" stroke-width="1.6" stroke-dasharray="8.5 4" stroke-linejoin="round" stroke-linecap="butt"/>
<path d="M1160.4,481.3 H894 Q887.5,481.3 887.5,489 V549.3" fill="none" stroke="#2b2a29" stroke-width="1.6" stroke-dasharray="8.5 4" stroke-linejoin="round" stroke-linecap="butt"/>
<path d="M1160.4,481.3 Q1168,482.5 1171.7,489.8" fill="none" stroke="#2b2a29" stroke-width="1.6" stroke-dasharray="8.5 4" stroke-linejoin="round" stroke-linecap="butt"/>
<path d="M1098.0,552.2 C1090.5,552.7 1090.5,553.6 1075.4,553.6 C1060.3,553.6 1067.8,554.1 1052.7,552.2 C1037.6,550.3 1047.0,553.1 1030.0,547.9 C1013.0,542.7 1018.7,546.0 1001.7,536.6 C984.7,527.2 992.2,529.8 979.0,519.6 C965.8,509.4 969.1,516.9 962.0,506.0 C954.9,495.1 959.2,493.3 957.8,487.0" fill="none" stroke="#2b2a29" stroke-width="1.6" stroke-dasharray="8.5 4" stroke-linejoin="round" stroke-linecap="butt"/>
<line x1="957.8" y1="485.5" x2="957.8" y2="497" stroke="#2b2a29" stroke-width="1.3" stroke-linecap="butt"/>
<path d="M887.5,549.3 C890.3,561.2 888.2,562.3 896.0,585.0 C903.8,607.7 901.3,602.1 911.0,617.4 C920.7,632.7 913.7,623.5 925.0,631.0 C936.3,638.5 928.9,635.1 945.0,640.0 C961.1,644.9 955.3,643.8 973.3,645.7 C991.3,647.6 980.0,649.5 998.9,645.7 C1017.8,641.9 1019.6,638.2 1030.0,634.4" fill="none" stroke="#2b2a29" stroke-width="1.6" stroke-dasharray="8.5 4" stroke-linejoin="round" stroke-linecap="butt"/>
<path d="M899.7,483.0 C899.7,492.8 896.9,492.3 899.7,512.5 C902.5,532.7 897.8,518.2 908.2,543.7 C918.6,569.2 915.7,563.5 930.8,589.0 C945.9,614.5 937.4,603.7 953.5,620.2 C969.6,636.7 963.9,630.1 979.0,638.6 C994.1,647.1 992.3,643.3 998.9,645.7" fill="none" stroke="#2b2a29" stroke-width="1.6" stroke-dasharray="8.5 4" stroke-linejoin="round" stroke-linecap="butt"/>
<line x1="899.7" y1="481.3" x2="899.7" y2="487" stroke="#2b2a29" stroke-width="1.3" stroke-linecap="butt"/>
<line x1="896.5" y1="481.3" x2="903" y2="481.3" stroke="#2b2a29" stroke-width="1.3" stroke-linecap="butt"/>
<ellipse cx="965.8" cy="565" rx="46.5" ry="12.5" transform="rotate(54.5 965.8 565)" fill="none" stroke="#2b2a29" stroke-width="1.6" stroke-dasharray="8.5 4"/>
</svg>
</body></html>
